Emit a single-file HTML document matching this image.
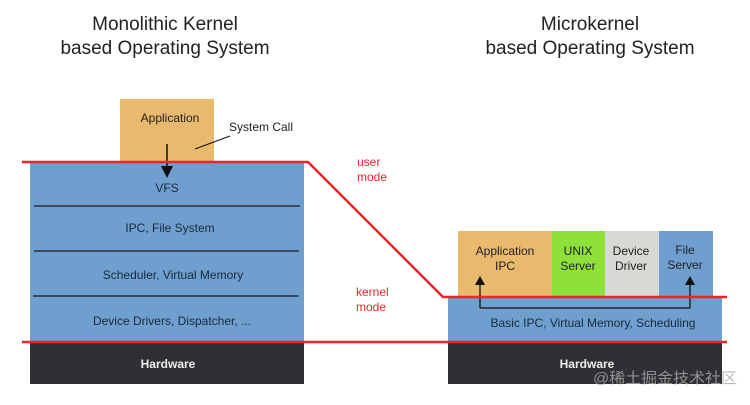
<!DOCTYPE html>
<html><head><meta charset="utf-8"><style>body{margin:0;background:#fff}</style></head><body>
<svg width="750" height="400" xmlns="http://www.w3.org/2000/svg" font-family="Liberation Sans, Noto Sans CJK SC, sans-serif">
<defs><marker id="a" markerWidth="8" markerHeight="8" refX="4" refY="4" orient="auto"><path d="M0,0L8,4L0,8z" fill="#111"/></marker></defs>
<text x="165" y="30" font-size="19" text-anchor="middle" fill="#222">Monolithic Kernel</text>
<text x="165" y="54" font-size="19" text-anchor="middle" fill="#222">based Operating System</text>
<text x="590" y="30" font-size="19" text-anchor="middle" fill="#222">Microkernel</text>
<text x="590" y="54" font-size="19" text-anchor="middle" fill="#222">based Operating System</text>
<rect x="120" y="99" width="94" height="63" fill="#e9b96e"/>
<text x="170" y="122" font-size="12" text-anchor="middle" fill="#222">Application</text>
<text x="229" y="131" font-size="12" fill="#222">System Call</text>
<line x1="195" y1="149" x2="230" y2="136" stroke="#111" stroke-width="1"/>
<rect x="30" y="162" width="274" height="180" fill="#6f9fcf"/>
<line x1="167" y1="144" x2="167" y2="172" stroke="#111" stroke-width="1.5" marker-end="url(#a)"/>
<g stroke="#1a1a1a" stroke-width="1.2"><line x1="34" y1="206" x2="300" y2="206"/><line x1="34" y1="251" x2="299" y2="251"/><line x1="33" y1="296" x2="299" y2="296"/></g>
<g font-size="12" text-anchor="middle" fill="#1a2a3a">
<text x="167" y="192">VFS</text><text x="170" y="232">IPC, File System</text><text x="173" y="279">Scheduler, Virtual Memory</text><text x="172" y="325">Device Drivers, Dispatcher, ...</text></g>
<rect x="30" y="343" width="274" height="41" fill="#2e3033"/>
<text x="168" y="368" font-size="12" font-weight="bold" text-anchor="middle" fill="#eee">Hardware</text>
<rect x="458" y="231" width="94" height="66" fill="#e9b96e"/>
<rect x="552" y="231" width="53" height="66" fill="#8ee03a"/>
<rect x="605" y="231" width="54" height="66" fill="#d8d8d4"/>
<rect x="659" y="231" width="54" height="66" fill="#6f9fcf"/>
<g font-size="12" text-anchor="middle" fill="#222">
<text x="505" y="255">Application</text><text x="505" y="270">IPC</text>
<text x="578" y="255">UNIX</text><text x="578" y="270">Server</text>
<text x="631" y="255">Device</text><text x="631" y="270">Driver</text>
<text x="685" y="254">File</text><text x="685" y="269">Server</text></g>
<rect x="448" y="297" width="274" height="45" fill="#6f9fcf"/>
<text x="593" y="327" font-size="12" text-anchor="middle" fill="#1a2a3a">Basic IPC, Virtual Memory, Scheduling</text>
<path d="M480,308V283M480,308H690V283" fill="none" stroke="#111" stroke-width="1.3"/>
<path d="M475,285L480,276L485,285z M685,285L690,276L695,285z" fill="#111"/>
<rect x="448" y="343" width="274" height="41" fill="#2e3033"/>
<text x="587" y="368" font-size="12" font-weight="bold" text-anchor="middle" fill="#eee">Hardware</text>
<text x="593" y="383" font-size="15" fill="#aaa" opacity="0.8" textLength="144" lengthAdjust="spacingAndGlyphs">@稀土掘金技术社区</text>
<path d="M22,162H308L443,297H727" fill="none" stroke="#e8262b" stroke-width="2.5"/>
<line x1="22" y1="342" x2="727" y2="342" stroke="#e8262b" stroke-width="2.5"/>
<g font-size="12" fill="#e8262b"><text x="357" y="166">user</text><text x="357" y="181">mode</text><text x="356" y="296">kernel</text><text x="356" y="311">mode</text></g>
</svg>
</body></html>
